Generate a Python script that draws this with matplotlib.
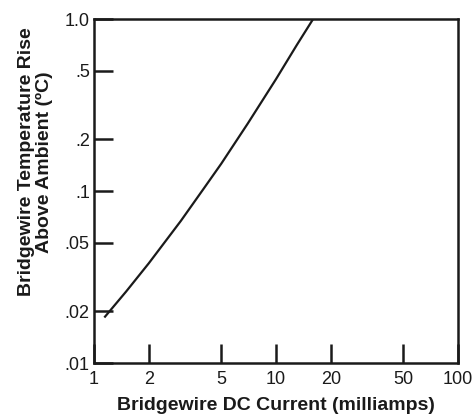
import matplotlib
matplotlib.use("Agg")
import matplotlib.pyplot as plt
from matplotlib.ticker import FixedLocator, FixedFormatter, NullLocator

# curve
current_ma = [1.15, 1.5, 2.0, 3.0, 4.0, 5.0, 7.0, 10.0, 13.0, 16.0]
temp_rise = [0.0186, 0.026, 0.038, 0.067, 0.103, 0.144, 0.247, 0.447, 0.705, 1.0]

xticks = [1, 2, 5, 10, 20, 50, 100]
xticklabels = ["1", "2", "5", "10", "20", "50", "100"]
yticks = [0.01, 0.02, 0.05, 0.1, 0.2, 0.5, 1.0]
yticklabels = [".01", ".02", ".05", ".1", ".2", ".5", "1.0"]

plt.rcParams['font.family'] = ['Liberation Sans', 'DejaVu Sans']

fig = plt.figure(figsize=(4.76, 4.15), dpi=100)
ax = fig.add_axes([94/476, 1 - 363/415, (458-94)/476, (363-19)/415])

ax.plot(current_ma, temp_rise, color='#1a1a1a', lw=1.6)
ax.set_xscale('log')
ax.set_yscale('log')
ax.set_xlim(1, 100)
ax.set_ylim(0.01, 1.0)

ax.xaxis.set_major_locator(FixedLocator(xticks))
ax.xaxis.set_major_formatter(FixedFormatter(xticklabels))
ax.xaxis.set_minor_locator(NullLocator())
ax.yaxis.set_major_locator(FixedLocator(yticks))
ax.yaxis.set_major_formatter(FixedFormatter(yticklabels))
ax.yaxis.set_minor_locator(NullLocator())

ax.tick_params(direction='in', length=14, width=1.8, labelsize=13, colors='#1a1a1a')
ax.tick_params(axis='x', pad=6)
ax.tick_params(axis='y', pad=3)
for s in ax.spines.values():
    s.set_linewidth(1.8)
    s.set_color('#1a1a1a')

ax.set_xlabel("Bridgewire DC Current (milliamps)", fontsize=14, fontweight='bold',
              labelpad=6, color='#1a1a1a')
ax.set_ylabel("Bridgewire Temperature Rise\nAbove Ambient (ºC)", fontsize=14, fontweight='bold',
              linespacing=1.1, color='#1a1a1a')
ax.yaxis.set_label_coords(-0.112, 0.585)

fig.savefig("out.png", dpi=100)
